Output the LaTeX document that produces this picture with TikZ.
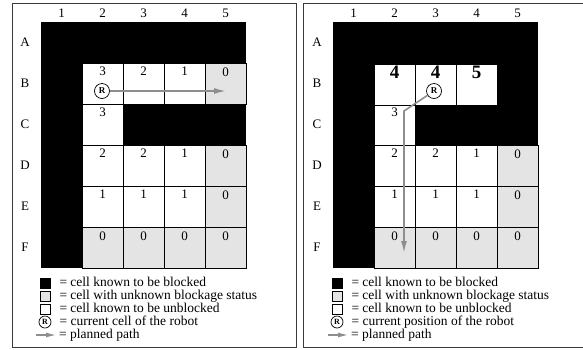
\documentclass[tikz,border=0pt]{standalone}
\usepackage{fontspec}
\setmainfont{Liberation Serif}
\usetikzlibrary{arrows.meta, positioning}
\definecolor{unknown}{HTML}{E4E4E4}
\definecolor{pathgray}{HTML}{8E8E8E}
\definecolor{frameink}{HTML}{3A3A3A}
\tikzset{
  cell/.style={draw=black, line width=0.7pt, minimum width=41pt, minimum height=41pt, inner sep=0pt},
  num/.style={anchor=north, font=\fontsize{13}{13}\selectfont, inner sep=0pt, yshift=-4.5pt},
  bignum/.style={anchor=north, font=\fontsize{19}{19}\selectfont\bfseries, inner sep=0pt, yshift=-2pt},
  hdr/.style={font=\fontsize{13}{13}\selectfont, inner sep=0pt},
  robot/.style={circle, draw, line width=0.7pt, minimum size=15pt, inner sep=0pt, font=\fontsize{9}{9}\selectfont\bfseries},
  plan/.style={-{Latex[length=12pt,width=6pt]}, line width=1.6pt, color=pathgray},
  key/.style={draw, line width=0.6pt, minimum size=10pt, inner sep=0pt},
  keytxt/.style={anchor=west, font=\fontsize{13.5}{14}\selectfont, inner sep=0pt,
                 text height=8.5pt, text depth=2.5pt},
}
\begin{document}
\begin{tikzpicture}[x=1pt, y=-1pt]
  \useasboundingbox (0,0) rectangle (583,349);
  % frames
  \draw[frameink, line width=0.8pt] (12,3) rectangle (296,347);
  \draw[frameink, line width=0.8pt] (303,3) rectangle (590,347);

  % ---- left panel: before the move
  \foreach \lab [count=\i] in {1,...,5}
    \node[hdr] (colL\i) at ({41*\i+20.5},13) {\lab};
  \foreach \lab [count=\j] in {A,B,C,D,E,F}
    \node[hdr] (rowL\j) at (25,{41*\j+1.5}) {\lab};
  \fill[black] (41,22) rectangle (246,268);
  \foreach \r/\c/\f/\v in {2/2/white/3, 2/3/white/2, 2/4/white/1, 2/5/unknown/0,
                           3/2/white/3,
                           4/2/white/2, 4/3/white/2, 4/4/white/1, 4/5/unknown/0,
                           5/2/white/1, 5/3/white/1, 5/4/white/1, 5/5/unknown/0,
                           6/2/unknown/0, 6/3/unknown/0, 6/4/unknown/0, 6/5/unknown/0} {
    \node[cell, fill=\f] (L\r\c) at ({41*\c+20.5},{41*\r+1.5}) {};
    \node[num] at (L\r\c.north) {\v};
  }
  \node[robot, fill=white] (robL) at (102,91) {R};
  \coordinate (goalL) at (226,91);
  \draw[plan] (robL) -- (goalL);

  % legend
  \node[key, fill=black] (kBlkL) at (45,283) {};
  \node[keytxt, right=9pt of kBlkL] {= cell known to be blocked};
  \node[key, fill=unknown] (kUnkL) at (45,296) {};
  \node[keytxt, right=9pt of kUnkL] {= cell with unknown blockage status};
  \node[key, fill=white] (kFreeL) at (45,309) {};
  \node[keytxt, right=9pt of kFreeL] {= cell known to be unblocked};
  \node[robot, minimum size=12pt, font=\fontsize{8}{8}\selectfont\bfseries] (kRobL) at (45,322) {R};
  \node[keytxt, right=8pt of kRobL] {= current cell of the robot};
  \coordinate (kA0L) at (36,335);
  \coordinate (kA1L) at (56,335);
  \draw[plan, line width=1.2pt, -{Latex[length=10pt,width=5pt]}] (kA0L) -- (kA1L);
  \node[keytxt, right=3pt of kA1L] {= planned path};

  % ---- right panel: after the move
  \begin{scope}[xshift=292pt]
    \foreach \lab [count=\i] in {1,...,5}
      \node[hdr] (colR\i) at ({41*\i+20.5},13) {\lab};
    \foreach \lab [count=\j] in {A,B,C,D,E,F}
      \node[hdr] (rowR\j) at (25,{41*\j+1.5}) {\lab};
    \fill[black] (41,22) rectangle (246,268);
    \foreach \r/\c/\f/\v in {3/2/white/3,
                             4/2/white/2, 4/3/white/2, 4/4/white/1, 4/5/unknown/0,
                             5/2/white/1, 5/3/white/1, 5/4/white/1, 5/5/unknown/0,
                             6/2/unknown/0, 6/3/unknown/0, 6/4/unknown/0, 6/5/unknown/0} {
      \node[cell, fill=\f] (R\r\c) at ({41*\c+20.5},{41*\r+1.5}) {};
      \node[num] at (R\r\c.north) {\v};
    }
    \foreach \c/\v in {2/4, 3/4, 4/5} {
      \node[cell, fill=white] (R2\c) at ({41*\c+20.5},84.5) {};
      \node[bignum] at (R2\c.north) {\v};
    }
    \node[robot, fill=white] (robR) at (142,91) {R};
    \coordinate (bendR) at (112,111);
    \coordinate (goalR) at (112,253);
    \draw[plan] (robR) -- (bendR) -- (goalR);

    % legend
    \node[key, fill=black] (kBlkR) at (45,283) {};
    \node[keytxt, right=9pt of kBlkR] {= cell known to be blocked};
    \node[key, fill=unknown] (kUnkR) at (45,296) {};
    \node[keytxt, right=9pt of kUnkR] {= cell with unknown blockage status};
    \node[key, fill=white] (kFreeR) at (45,309) {};
    \node[keytxt, right=9pt of kFreeR] {= cell known to be unblocked};
    \node[robot, minimum size=12pt, font=\fontsize{8}{8}\selectfont\bfseries] (kRobR) at (45,322) {R};
    \node[keytxt, right=8pt of kRobR] {= current position of the robot};
    \coordinate (kA0R) at (36,335);
    \coordinate (kA1R) at (56,335);
    \draw[plan, line width=1.2pt, -{Latex[length=10pt,width=5pt]}] (kA0R) -- (kA1R);
    \node[keytxt, right=3pt of kA1R] {= planned path};
  \end{scope}
\end{tikzpicture}
\end{document}
